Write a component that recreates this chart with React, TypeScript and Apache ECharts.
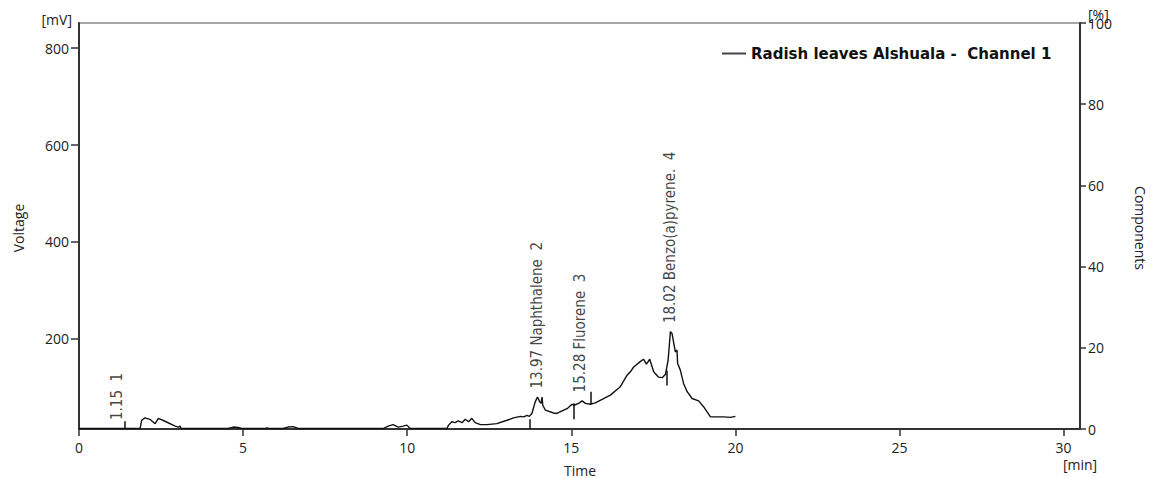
import React, { useEffect, useRef } from "react";
import * as echarts from "echarts";

// Chromatogram trace (time in min, voltage in mV)
const times = [
  0, 1.86, 1.91, 2.01, 2.16, 2.32, 2.42, 2.62, 2.93, 3.03, 3.08, 3.11, 4.54, 4.7, 4.85, 4.96,
  5.67, 5.73, 5.79, 6.22, 6.37, 6.52, 6.68, 9.27, 9.42, 9.57, 9.73, 9.88, 9.99, 10.09, 11.21,
  11.26, 11.36, 11.46, 11.56, 11.67, 11.77, 11.87, 11.97, 12.07, 12.23, 12.43, 12.73, 13.04,
  13.24, 13.45, 13.55, 13.65, 13.72, 13.8, 13.9, 13.97, 14.04, 14.08, 14.11, 14.13, 14.21,
  14.46, 14.56, 14.77, 14.87, 15.02, 15.09, 15.22, 15.33, 15.43, 15.58, 15.73, 15.94, 16.19,
  16.44, 16.49, 16.7, 16.8, 16.9, 17.1, 17.2, 17.29, 17.39, 17.51, 17.66, 17.77, 17.87, 17.95,
  18.02, 18.07, 18.17, 18.22, 18.24, 18.32, 18.42, 18.53, 18.68, 18.88, 19.03, 19.24, 19.34,
  19.64, 19.85, 20.0,
];
const voltage = [
  15, 15, 32, 37, 34, 25, 36, 30, 20, 18, 20, 15, 15, 18, 17, 15,
  15, 16, 15, 15, 18, 19, 15, 15, 20, 23, 18, 20, 22, 15, 15,
  22, 29, 27, 31, 27, 34, 29, 36, 27, 23, 23, 25, 32,
  37, 40, 39, 42, 40, 46, 70, 80, 70, 67, 80, 63, 53,
  47, 46, 53, 56, 65, 63, 67, 72, 67, 65, 68, 75, 84,
  98, 101, 125, 132, 142, 153, 158, 148, 158, 132, 121, 120, 127, 156,
  215, 211, 173, 177, 149, 136, 108, 91, 77, 72, 60, 39, 39,
  39, 38, 40,
];

// Peak identification
const peakTimes = [1.15, 13.97, 15.28, 18.02];
const peakNames = ["", "Naphthalene", "Fluorene", "Benzo(a)pyrene."];
const peakNumbers = [1, 2, 3, 4];
const peakHeights = [15, 80, 72, 215];

// Peak boundary markers (time, low mV, high mV)
const markerTimes = [1.4, 13.72, 15.09, 15.58, 17.92];
const markerLow = [15, 14, 34, 65, 104];
const markerHigh = [30, 34, 67, 91, 135];

// Axis ticks
const timeTicks = [0, 5, 10, 15, 20, 25, 30];
const voltageTicks = [200, 400, 600, 800];

const seriesName = "Radish leaves Alshuala -  Channel 1";

const TICK_FONT = "'Open Sans', 'DejaVu Sans', sans-serif";
const TEXT_COLOR = "#222";

export default function App() {
  const ref = useRef<HTMLDivElement>(null);

  useEffect(() => {
    if (!ref.current) return;
    const chart = echarts.init(ref.current, undefined, { renderer: "svg" });

    const traceData = times.map((t, i) => [t, voltage[i]]);
    const peakData = peakTimes.map((t, i) => ({
      value: [t, peakHeights[i]],
      label: {
        formatter: peakNames[i]
          ? `${t.toFixed(2)} ${peakNames[i]}  ${peakNumbers[i]}`
          : `${t.toFixed(2)}  ${peakNumbers[i]}`,
      },
    }));
    const markerData = markerTimes.map((t, i) => [
      { coord: [t, markerLow[i]] },
      { coord: [t, markerHigh[i]] },
    ]);

    chart.setOption({
      animation: false,
      backgroundColor: "#fff",
      grid: {
        left: 79,
        right: 72,
        top: 23,
        bottom: 49,
        show: true,
        borderColor: "#8a8a8a",
        borderWidth: 1.5,
      },
      legend: {
        data: [{ name: seriesName, icon: "rect" }],
        left: 722,
        top: 46,
        padding: 0,
        itemWidth: 24,
        itemHeight: 2,
        itemGap: 6,
        itemStyle: { color: "#444" },
        textStyle: {
          fontFamily: "'DejaVu Sans', sans-serif",
          fontWeight: "bold",
          fontSize: 15,
          color: "#111",
        },
      },
      xAxis: {
        type: "value",
        min: 0,
        max: 30.5,
        axisLine: { show: true, lineStyle: { color: "#333", width: 2 } },
        axisTick: {
          show: true,
          length: 7,
          customValues: timeTicks,
          lineStyle: { color: "#333", width: 1.5 },
        },
        axisLabel: {
          customValues: timeTicks,
          margin: 11,
          fontSize: 14,
          fontFamily: TICK_FONT,
          color: TEXT_COLOR,
        },
        splitLine: { show: false },
      },
      yAxis: [
        {
          type: "value",
          min: 14,
          max: 852,
          position: "left",
          axisLine: { show: true, lineStyle: { color: "#333", width: 2 } },
          axisTick: {
            show: true,
            length: 8,
            customValues: voltageTicks,
            lineStyle: { color: "#333", width: 1.5 },
          },
          axisLabel: {
            customValues: voltageTicks,
            margin: 10,
            fontSize: 14,
            fontFamily: TICK_FONT,
            color: TEXT_COLOR,
          },
          splitLine: { show: false },
        },
        {
          type: "value",
          min: 0,
          max: 100,
          interval: 20,
          position: "right",
          axisLine: { show: true, lineStyle: { color: "#333", width: 2 } },
          axisTick: { show: true, length: 6, lineStyle: { color: "#333", width: 1.5 } },
          axisLabel: {
            margin: 8,
            fontSize: 14,
            fontFamily: TICK_FONT,
            color: TEXT_COLOR,
          },
          splitLine: { show: false },
        },
      ],
      series: [
        {
          name: seriesName,
          type: "line",
          xAxisIndex: 0,
          yAxisIndex: 0,
          data: traceData,
          symbol: "none",
          showSymbol: false,
          lineStyle: { color: "#111", width: 1.4 },
          itemStyle: { color: "#444" },
          markLine: {
            silent: true,
            symbol: ["none", "none"],
            label: { show: false },
            lineStyle: { color: "#111", width: 1.5, type: "solid" },
            data: markerData,
          },
        },
        {
          name: "peaks",
          type: "scatter",
          xAxisIndex: 0,
          yAxisIndex: 0,
          symbolSize: 1,
          itemStyle: { color: "rgba(0,0,0,0)" },
          silent: true,
          data: peakData,
          label: {
            show: true,
            position: "top",
            distance: 8,
            rotate: 90,
            align: "left",
            verticalAlign: "middle",
            fontSize: 15,
            fontFamily: "'Liberation Sans Narrow', 'DejaVu Sans Condensed', sans-serif",
            color: "#111",
          },
        },
      ],
      graphic: [
        {
          type: "text",
          x: 72,
          y: 19,
          style: {
            text: "[mV]",
            align: "right",
            verticalAlign: "middle",
            fontSize: 14,
            fontFamily: TICK_FONT,
            fill: TEXT_COLOR,
          },
        },
        {
          type: "text",
          x: 1088,
          y: 14,
          style: {
            text: "[%]",
            align: "left",
            verticalAlign: "middle",
            fontSize: 14,
            fontFamily: TICK_FONT,
            fill: TEXT_COLOR,
          },
        },
        {
          type: "text",
          x: 1080,
          y: 464,
          style: {
            text: "[min]",
            align: "center",
            verticalAlign: "middle",
            fontSize: 14,
            fontFamily: TICK_FONT,
            fill: TEXT_COLOR,
          },
        },
        {
          type: "text",
          x: 580,
          y: 470,
          style: {
            text: "Time",
            align: "center",
            verticalAlign: "middle",
            fontSize: 14,
            fontFamily: TICK_FONT,
            fill: TEXT_COLOR,
          },
        },
        {
          type: "text",
          x: 18,
          y: 228,
          rotation: Math.PI / 2,
          style: {
            text: "Voltage",
            align: "center",
            verticalAlign: "middle",
            fontSize: 14,
            fontFamily: TICK_FONT,
            fill: TEXT_COLOR,
          },
        },
        {
          type: "text",
          x: 1140,
          y: 228,
          rotation: -Math.PI / 2,
          style: {
            text: "Components",
            align: "center",
            verticalAlign: "middle",
            fontSize: 14,
            fontFamily: TICK_FONT,
            fill: TEXT_COLOR,
          },
        },
      ],
    });

    return () => chart.dispose();
  }, []);

  return (
    <div
      ref={ref}
      style={{ position: "fixed", left: 0, top: 0, width: 1152, height: 478 }}
    />
  );
}
